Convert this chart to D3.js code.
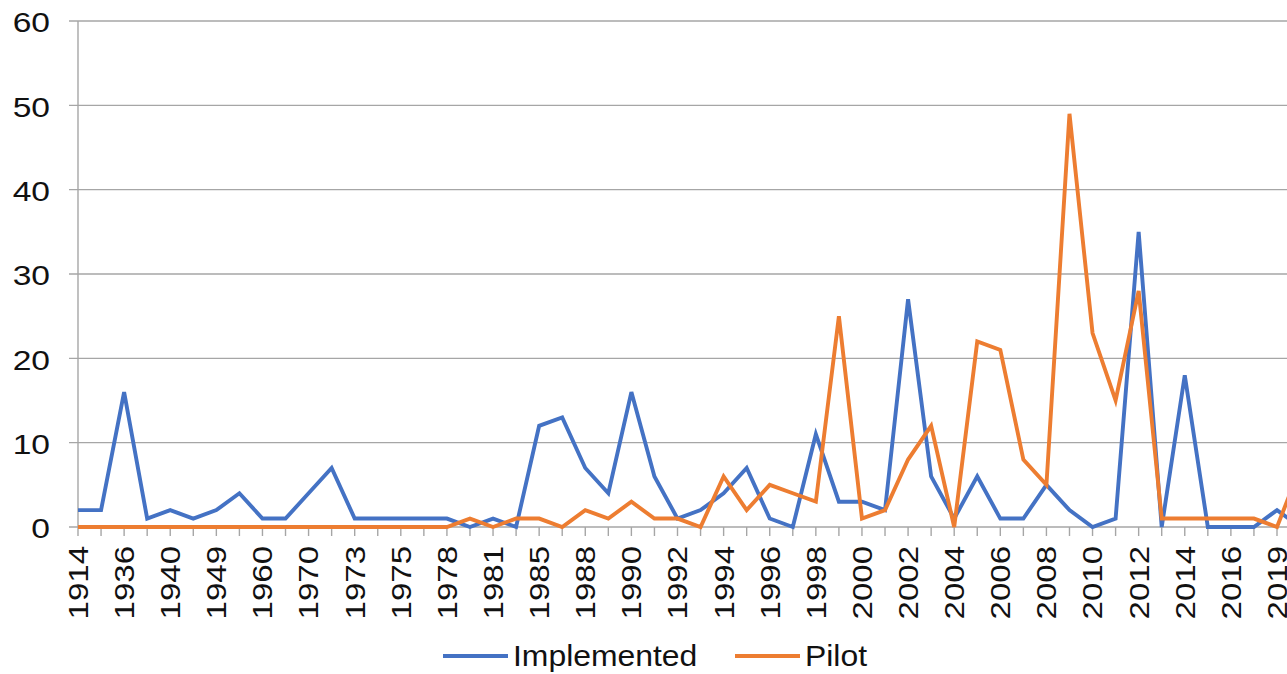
<!DOCTYPE html>
<html>
<head>
<meta charset="utf-8">
<script src="https://cdn.jsdelivr.net/npm/d3@7/dist/d3.min.js"></script>
<style>
  html, body { margin: 0; padding: 0; background: #fff; overflow: hidden; }
  svg { display: block; font-family: "Liberation Sans", Arial, sans-serif; }
</style>
</head>
<body>
<svg id="chart" width="1287" height="674"></svg>
<script>
// Years on the category axis (every other one is labelled)
const years = [
  "1914","1930","1936","1939","1940","1945","1949","1955","1960","1965",
  "1970","1972","1973","1974","1975","1977","1978","1980","1981","1983",
  "1985","1986","1988","1989","1990","1991","1992","1993","1994","1995",
  "1996","1997","1998","1999","2000","2001","2002","2003","2004","2005",
  "2006","2007","2008","2009","2010","2011","2012","2013","2014","2015",
  "2016","2018","2019","2020"
];
const implemented = [
  2,2,16,1,2,1,2,4,1,1,
  4,7,1,1,1,1,1,0,1,0,
  12,13,7,4,16,6,1,2,4,7,
  1,0,11,3,3,2,27,6,1,6,
  1,1,5,2,0,1,35,0,18,0,
  0,0,2,0
];
const pilot = [
  0,0,0,0,0,0,0,0,0,0,
  0,0,0,0,0,0,0,1,0,1,
  1,0,2,1,3,1,1,0,6,2,
  5,4,3,25,1,2,8,12,0,22,
  21,8,5,49,23,15,28,1,1,1,
  1,1,0,7
];
const yTicks = [0, 10, 20, 30, 40, 50, 60];
const seriesNames = ["Implemented", "Pilot"];
const seriesColors = ["#4472C4", "#ED7D31"];

const svg = d3.select("#chart");
const W = 1287;

const plotLeft = 78, plotTop = 21, plotBottom = 527;
const step = (1277 - plotLeft) / 52;
const x = d3.scalePoint()
  .domain(years)
  .range([plotLeft, plotLeft + step * (years.length - 1)]);
const y = d3.scaleLinear().domain([0, 60]).range([plotBottom, plotTop]);

const gridColor = "#a6a6a6";
const textColor = "#111";

// horizontal gridlines
svg.append("g")
  .selectAll("line")
  .data(yTicks)
  .join("line")
  .attr("x1", plotLeft - 9)
  .attr("x2", W + 20)
  .attr("y1", d => y(d))
  .attr("y2", d => y(d))
  .attr("stroke", gridColor)
  .attr("stroke-width", 1.4);

// y axis line
svg.append("line")
  .attr("x1", plotLeft).attr("x2", plotLeft)
  .attr("y1", plotTop).attr("y2", plotBottom)
  .attr("stroke", gridColor).attr("stroke-width", 1.4);

// y tick labels (wide digits)
svg.append("g")
  .selectAll("text")
  .data(yTicks)
  .join("text")
  .attr("transform", d => `translate(50,${y(d)}) scale(1.2,1)`)
  .attr("dy", "0.4em")
  .attr("text-anchor", "end")
  .attr("font-size", 28)
  .attr("fill", textColor)
  .text(d => d);

// x axis ticks at every category
svg.append("g")
  .selectAll("line")
  .data(years)
  .join("line")
  .attr("x1", d => x(d)).attr("x2", d => x(d))
  .attr("y1", plotBottom).attr("y2", plotBottom + 9)
  .attr("stroke", gridColor).attr("stroke-width", 1.4);

// x tick labels, every second category, rotated
svg.append("g")
  .selectAll("text")
  .data(years.filter((d, i) => i % 2 === 0))
  .join("text")
  .attr("transform", d => `translate(${x(d)},${plotBottom + 19}) rotate(-90) scale(1.2,1)`)
  .attr("dy", "0.36em")
  .attr("text-anchor", "end")
  .attr("font-size", 27.5)
  .attr("fill", textColor)
  .text(d => d);

// series lines
const line = d3.line()
  .x((d, i) => x(years[i]))
  .y(d => y(d));

[implemented, pilot].forEach((vals, k) => {
  svg.append("path")
    .datum(vals)
    .attr("d", line)
    .attr("fill", "none")
    .attr("stroke", seriesColors[k])
    .attr("stroke-width", 3.9)
    .attr("stroke-linejoin", "miter")
    .attr("stroke-linecap", "butt");
});

// legend
const legendY = 656;
const legendItems = [
  { name: seriesNames[0], color: seriesColors[0], x0: 443 },
  { name: seriesNames[1], color: seriesColors[1], x0: 735 }
];
const lg = svg.append("g");
legendItems.forEach(it => {
  lg.append("line")
    .attr("x1", it.x0).attr("x2", it.x0 + 65)
    .attr("y1", legendY).attr("y2", legendY)
    .attr("stroke", it.color).attr("stroke-width", 3.9);
  lg.append("text")
    .attr("transform", `translate(${it.x0 + 70},${legendY}) scale(1.1,1)`)
    .attr("dy", "0.36em")
    .attr("font-size", 29)
    .attr("fill", textColor)
    .text(it.name);
});
</script>
</body>
</html>
